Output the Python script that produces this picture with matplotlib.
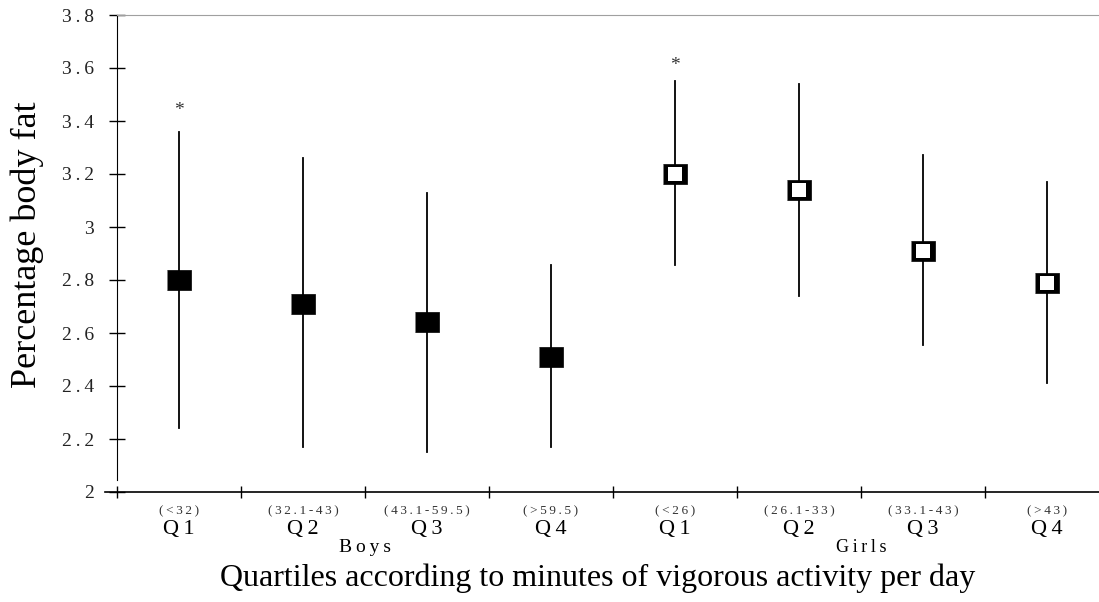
import matplotlib
matplotlib.use("Agg")
import matplotlib.pyplot as plt

plt.rcParams['font.family'] = ['Liberation Serif', 'DejaVu Serif']

quartiles = ["Q1", "Q2", "Q3", "Q4", "Q1", "Q2", "Q3", "Q4"]
ranges = ["(<32)", "(32.1-43)", "(43.1-59.5)", "(>59.5)", "(<26)", "(26.1-33)", "(33.1-43)", "(>43)"]
groups = ["Boys", "Girls"]
boys_mean = [2.80, 2.71, 2.64, 2.51]
boys_low = [2.24, 2.17, 2.15, 2.17]
boys_high = [3.36, 3.26, 3.13, 2.857]
girls_mean = [3.20, 3.14, 2.91, 2.79]
girls_low = [2.857, 2.74, 2.555, 2.41]
girls_high = [3.55, 3.54, 3.27, 3.17]
star_y = [3.44, 3.61]  # asterisks above Boys Q1 and Girls Q1
yticks = [2, 2.2, 2.4, 2.6, 2.8, 3, 3.2, 3.4, 3.6, 3.8]
ytick_labels = ["2", "2.2", "2.4", "2.6", "2.8", "3", "3.2", "3.4", "3.6", "3.8"]

TS = "\u2009"  # thin space to imitate the letter spacing of the original


def spaced(s):
    return TS.join(list(s))


fig = plt.figure(figsize=(10.99, 6.02), dpi=100)
ax = fig.add_axes([117/1099, 1-492/602, 982/1099, 477/602])

xb = [0.5, 1.5, 2.5, 3.5]
xg = [4.5, 5.5, 6.5, 7.5]

rect = [(-0.6, -0.5), (0.6, -0.5), (0.6, 0.5), (-0.6, 0.5)]

for x, lo, hi in zip(xb, boys_low, boys_high):
    ax.plot([x, x], [lo, hi], color='black', lw=1.3, zorder=2)
for x, lo, hi in zip(xg, girls_low, girls_high):
    ax.plot([x, x], [lo, hi], color='black', lw=1.3, zorder=2)
ax.plot(xb, boys_mean, ls='none', marker=rect, ms=17.5, mfc='black', mec='black', mew=0.5, zorder=3)
ax.plot(xg, girls_mean, ls='none', marker=rect, ms=17.5, mfc='black', mec='black', mew=0.5, zorder=3)
ax.plot(xg, girls_mean, ls='none', marker='s', ms=10, mfc='white', mec='white', mew=0, zorder=4)
ax.text(xb[0], star_y[0], "*", ha='center', va='center', fontsize=14, color='#333')
ax.text(xg[0], star_y[1], "*", ha='center', va='center', fontsize=14, color='#333')

ax.set_xlim(0, 982/124)
ax.set_ylim(2, 3.8)
ax.set_yticks(yticks)
ax.set_yticklabels([spaced(t) for t in ytick_labels], fontsize=14, color='#222')
ax.set_xticks(range(0, 8))
ax.set_xticklabels([])
ax.tick_params(axis='y', direction='inout', length=11, width=1, pad=11)
ax.tick_params(axis='x', direction='inout', length=8, width=1)

ax.spines['right'].set_visible(False)
ax.spines['top'].set_color('#a0a0a0')
ax.spines['left'].set_bounds(2.045, 3.8)
ax.spines['bottom'].set_visible(False)
ax.plot([-0.1, 982/124], [2, 2], color='black', lw=1.2, clip_on=False, zorder=4)

for i, (q, r) in enumerate(zip(quartiles, ranges)):
    x = i + 0.5
    ax.text(x, 1.928, spaced(r), ha='center', va='center', fontsize=9.5, color='#333', clip_on=False)
    ax.text(x, 1.86, q[0] + TS + q[1], ha='center', va='center', fontsize=16, color='black', clip_on=False)
ax.text(2.0, 1.792, spaced(groups[0]), ha='center', va='center', fontsize=14, clip_on=False)
ax.text(6.0, 1.792, spaced(groups[1]), ha='center', va='center', fontsize=13, clip_on=False)

fig.text(27/1099, 1-245/602, "Percentage body fat", rotation=90,
         ha='center', va='center', fontsize=26)
fig.text(598/1099, 1-578/602, "Quartiles according to minutes of vigorous activity per day",
         ha='center', va='center', fontsize=23)

fig.savefig("out.png", dpi=100)
